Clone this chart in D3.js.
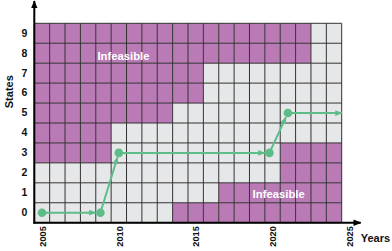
<!DOCTYPE html>
<html>
<head>
<meta charset="utf-8">
<script src="https://cdn.jsdelivr.net/npm/d3@7"></script>
<style>
  body { margin: 0; background: #fff; }
  text { font-family: "Liberation Sans", Arial, sans-serif; font-weight: bold; }
</style>
</head>
<body>
<svg id="chart"></svg>
<script>
// categories
var years = [2005, 2006, 2007, 2008, 2009, 2010, 2011, 2012, 2013, 2014,
             2015, 2016, 2017, 2018, 2019, 2020, 2021, 2022, 2023, 2024];
var states = [0, 1, 2, 3, 4, 5, 6, 7, 8, 9];
var yearTicks = [2005, 2010, 2015, 2020, 2025];

// infeasible runs: state, first year, last year
var infState = [9, 8, 7, 6, 5, 4, 3, 3, 2, 1, 0];
var infFrom  = [2005, 2005, 2005, 2005, 2005, 2005, 2005, 2021, 2021, 2017, 2014];
var infTo    = [2022, 2022, 2015, 2015, 2013, 2009, 2009, 2024, 2024, 2024, 2024];

// trajectory
var pathYears  = [2005, 2008.8, 2010, 2019.8, 2021, 2024.5];
var pathStates = [0, 0, 3, 3, 5, 5];

var width = 392, height = 251;
var margin = {top: 23.3, right: 50.3, bottom: 28.3, left: 34.3};
var innerwidth = width - margin.left - margin.right,
    innerheight = height - margin.top - margin.bottom;

var svg = d3.select("#chart").attr("width", width).attr("height", height);
var defs = svg.append("defs");
defs.append("marker").attr("id", "axisArrow")
    .attr("viewBox", "0 0 10 10").attr("refX", 9).attr("refY", 5)
    .attr("markerWidth", 4).attr("markerHeight", 4).attr("orient", "auto")
  .append("path").attr("d", "M0,1L10,5L0,9z").attr("fill", "#000");
defs.append("marker").attr("id", "greenArrow")
    .attr("viewBox", "0 0 10 10").attr("refX", 9).attr("refY", 5)
    .attr("markerWidth", 3.6).attr("markerHeight", 3.6).attr("orient", "auto")
  .append("path").attr("d", "M0,1L10,5L0,9z").attr("fill", "#5dbd88");

var g = svg.append("g")
    .attr("transform", "translate(" + margin.left + "," + margin.top + ")");

var x = d3.scaleLinear().domain([2004.5, 2024.5]).range([0, innerwidth]);
var yb = d3.scaleBand().domain(states.slice().reverse()).range([0, innerheight]);
var y = d3.scaleLinear().domain([-0.5, 9.5]).range([innerheight, 0]);

// background cells
var cells = [];
states.forEach(function(s) {
    years.forEach(function(yr) {
        var bad = false;
        infState.forEach(function(st, i) {
            if (st === s && yr >= infFrom[i] && yr <= infTo[i]) bad = true;
        });
        cells.push({year: yr, state: s, bad: bad});
    });
});

g.selectAll("rect.cell").data(cells).enter().append("rect")
    .attr("class", "cell")
    .attr("x", function(d) { return x(d.year - 0.5); })
    .attr("y", function(d) { return yb(d.state); })
    .attr("width", x(2005.5) - x(2004.5))
    .attr("height", yb.bandwidth())
    .attr("fill", function(d) { return d.bad ? "#b97ab6" : "#e6e7e8"; });

// grid lines
var bounds = years.concat([2025]);
g.selectAll("line.vgrid").data(bounds).enter().append("line")
    .attr("x1", function(d) { return x(d - 0.5); })
    .attr("x2", function(d) { return x(d - 0.5); })
    .attr("y1", 0).attr("y2", innerheight)
    .attr("stroke", "#333").attr("stroke-width", 1);
g.selectAll("line.hgrid").data(states.concat([10])).enter().append("line")
    .attr("x1", 0).attr("x2", innerwidth)
    .attr("y1", function(d) { return y(d - 0.5); })
    .attr("y2", function(d) { return y(d - 0.5); })
    .attr("stroke", "#333").attr("stroke-width", 1);

// infeasible labels
g.append("text").attr("x", x(2010.3)).attr("y", y(7.85))
    .attr("text-anchor", "middle").attr("dy", "0.35em")
    .attr("fill", "#fff").style("font-size", "11.3px").text("Infeasible");
g.append("text").attr("x", x(2020.4)).attr("y", y(0.93))
    .attr("text-anchor", "middle").attr("dy", "0.35em")
    .attr("fill", "#fff").style("font-size", "11.3px").text("Infeasible");

// trajectory
var pts = pathYears.map(function(d, i) { return [x(d), y(pathStates[i])]; });
var r = 4.3;
for (var i = 0; i < pts.length - 1; i++) {
    var a = pts[i], b = pts[i + 1];
    var dx = b[0] - a[0], dy = b[1] - a[1], len = Math.sqrt(dx * dx + dy * dy);
    var cut = (i + 1 < pts.length - 1) ? r + 0.5 : 0;
    g.append("line")
        .attr("x1", a[0]).attr("y1", a[1])
        .attr("x2", b[0] - dx / len * cut).attr("y2", b[1] - dy / len * cut)
        .attr("stroke", "#5dbd88").attr("stroke-width", 2)
        .attr("marker-end", "url(#greenArrow)");
}
g.selectAll("circle.node").data(pts.slice(0, -1)).enter().append("circle")
    .attr("cx", function(d) { return d[0]; })
    .attr("cy", function(d) { return d[1]; })
    .attr("r", r).attr("fill", "#5dbd88");

// axes
var xAxis = g.append("g").attr("transform", "translate(0," + innerheight + ")")
    .call(d3.axisBottom(x).tickValues(yearTicks).tickFormat(d3.format("d")).tickSize(0));
xAxis.select(".domain").remove();
xAxis.selectAll("text")
    .attr("transform", "rotate(-90)")
    .attr("text-anchor", "end")
    .attr("x", -3.5).attr("y", 0).attr("dy", "0.35em")
    .style("font-size", "9.2px").attr("fill", "#111");

var yAxis = g.append("g").call(d3.axisLeft(yb).tickSize(0).tickPadding(7));
yAxis.select(".domain").remove();
yAxis.selectAll("text").style("font-size", "10.5px").attr("fill", "#111");

g.append("line").attr("x1", 0).attr("x2", 0)
    .attr("y1", innerheight + 1).attr("y2", -margin.top + 1)
    .attr("stroke", "#000").attr("stroke-width", 2)
    .attr("marker-end", "url(#axisArrow)");
g.append("line").attr("x1", -1).attr("x2", innerwidth + 19)
    .attr("y1", innerheight).attr("y2", innerheight)
    .attr("stroke", "#000").attr("stroke-width", 2)
    .attr("marker-end", "url(#axisArrow)");

g.append("text").attr("transform", "translate(" + (-21.6) + "," + (innerheight / 2 - 31.3) + ") rotate(-90)")
    .attr("text-anchor", "middle").style("font-size", "11px").attr("fill", "#111").text("States");
g.append("text").attr("x", innerwidth + 19).attr("y", innerheight + 19.5)
    .attr("text-anchor", "start").style("font-size", "11px").attr("fill", "#111").text("Years");
</script>
</body>
</html>
